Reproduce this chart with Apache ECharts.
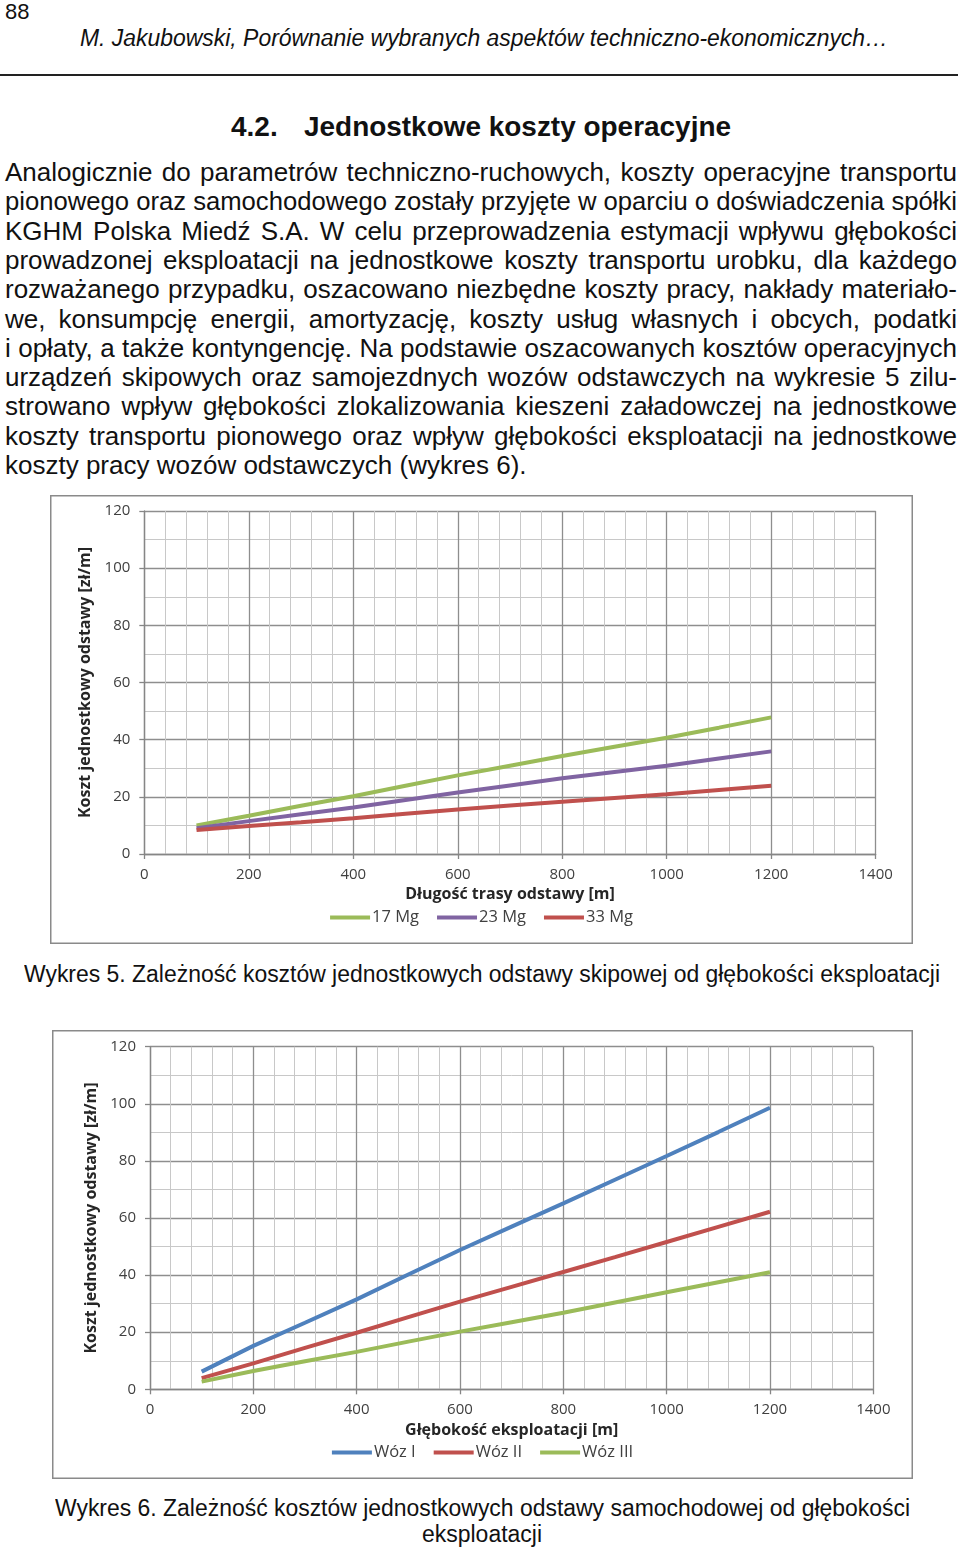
<!DOCTYPE html>
<html>
<head>
<meta charset="utf-8">
<script src="https://cdn.jsdelivr.net/npm/echarts@6/dist/echarts.min.js"></script>
<style>
  html, body { margin:0; padding:0; background:#fff; }
  body { width:960px; height:1553px; position:relative; overflow:hidden; font-family:"Liberation Sans", Arial, sans-serif; color:#111; }
  .t { position:absolute; white-space:nowrap; line-height:1; }
  .fit { transform-origin:0 50%; }
  .line { position:absolute; left:5px; width:952px; font-size:26px; line-height:1; white-space:nowrap; text-align:justify; text-align-last:justify; transform-origin:0 50%; }
  .line.last { text-align:left; text-align-last:left; }
  #rule { position:absolute; left:0; top:74px; width:958px; height:1.5px; background:#222; }
  .chart { position:absolute; }
</style>
</head>
<body>
<div class="t" style="left:5px;top:1px;font-size:22px;">88</div>
<div class="t fit" data-w="808" style="left:80px;top:27px;font-size:23px;font-style:italic;">M. Jakubowski, Porównanie wybranych aspektów techniczno-ekonomicznych…</div>
<div id="rule"></div>
<div class="t" style="left:231px;top:113px;font-size:28px;font-weight:bold;">4.2.</div>
<div class="t fit" data-w="427" style="left:304px;top:113px;font-size:28px;font-weight:bold;">Jednostkowe koszty operacyjne</div>
<div id="para"></div>
<div class="t fit" data-w="916" style="left:24px;top:963px;font-size:23px;">Wykres 5. Zależność kosztów jednostkowych odstawy skipowej od głębokości eksploatacji</div>
<div class="t fit" data-w="855" style="left:55px;top:1497px;font-size:23px;">Wykres 6. Zależność kosztów jednostkowych odstawy samochodowej od głębokości</div>
<div class="t fit" data-w="120" style="left:422px;top:1523px;font-size:23px;">eksploatacji</div>

<div id="c1" class="chart" style="left:50px;top:495px;width:863px;height:449px;"></div>
<div id="c2" class="chart" style="left:52px;top:1030px;width:861px;height:449px;"></div>

<script>
// ---- data ----
const paragraphLines = [
  "Analogicznie do parametrów techniczno-ruchowych, koszty operacyjne transportu",
  "pionowego oraz samochodowego zostały przyjęte w oparciu o doświadczenia spółki",
  "KGHM Polska Miedź S.A. W celu przeprowadzenia estymacji wpływu głębokości",
  "prowadzonej eksploatacji na jednostkowe koszty transportu urobku, dla każdego",
  "rozważanego przypadku, oszacowano niezbędne koszty pracy, nakłady materiało-",
  "we, konsumpcję energii, amortyzację, koszty usług własnych i obcych, podatki",
  "i opłaty, a także kontyngencję. Na podstawie oszacowanych kosztów operacyjnych",
  "urządzeń skipowych oraz samojezdnych wozów odstawczych na wykresie 5 zilu-",
  "strowano wpływ głębokości zlokalizowania kieszeni załadowczej na jednostkowe",
  "koszty transportu pionowego oraz wpływ głębokości eksploatacji na jednostkowe",
  "koszty pracy wozów odstawczych (wykres 6)."
];

const depths = [100, 200, 300, 400, 500, 600, 700, 800, 900, 1000, 1100, 1200];
const xTicks = [0, 200, 400, 600, 800, 1000, 1200, 1400];
const yTicks = [0, 20, 40, 60, 80, 100, 120];

const chart1Names = ["17 Mg", "23 Mg", "33 Mg"];
const mg17 = [10.0, 13.4, 16.9, 20.2, 23.9, 27.5, 30.9, 34.3, 37.5, 40.7, 44.2, 47.8];
const mg23 = [9.0, 11.5, 13.9, 16.3, 18.9, 21.5, 24.0, 26.5, 28.7, 30.9, 33.4, 35.9];
const mg33 = [8.4, 9.8, 11.1, 12.5, 14.1, 15.6, 17.0, 18.3, 19.6, 20.9, 22.4, 23.9];

const chart2Names = ["Wóz I", "Wóz II", "Wóz III"];
const woz1 = [6.2, 15.2, 23.3, 31.5, 40.2, 48.8, 57.0, 65.1, 73.4, 81.7, 90.1, 98.6];
const woz2 = [3.9, 9.1, 14.5, 19.8, 25.3, 30.7, 35.9, 41.1, 46.3, 51.6, 56.9, 62.2];
const woz3 = [2.7, 6.4, 9.8, 13.1, 16.7, 20.2, 23.5, 26.8, 30.4, 34.0, 37.5, 41.0];

// ---- page text ----
const para = document.getElementById('para');
paragraphLines.forEach((txt, i) => {
  const d = document.createElement('div');
  d.className = 'line' + (i === paragraphLines.length - 1 ? ' last' : '');
  d.style.top = (172 - 13 + i * 29.3) + 'px';
  const s = document.createElement('span');
  s.textContent = txt;
  d.appendChild(s);
  para.appendChild(d);
  const nat = s.getBoundingClientRect().width;
  if (nat > 952) {
    d.style.width = nat + 'px';
    d.style.transform = 'scaleX(' + (952 / nat) + ')';
  }
});
document.querySelectorAll('.fit').forEach(el => {
  const target = parseFloat(el.dataset.w);
  const w = el.getBoundingClientRect().width;
  if (w > 0) el.style.transform = 'scaleX(' + (target / w) + ')';
});

// ---- charts ----
function pairs(xs, ys) { return xs.map((x, i) => [x, ys[i]]); }

function makeOption(w, h, grid, xName, names, datas, colors, yNameGap) {
  const axisCommon = {
    type: 'value',
    axisLine: { show: true, onZero: false, lineStyle: { color: '#868686', width: 1.3 } },
    axisTick: { show: true, length: 5, lineStyle: { color: '#868686', width: 1.3 } },
    axisLabel: { color: '#404040', fontSize: 15, fontFamily: 'Open Sans', formatter: v => String(v) },
    splitLine: { show: true, lineStyle: { color: '#8e8e8e', width: 1.3 } },
    minorSplitLine: { show: true, lineStyle: { color: '#c8c8c8', width: 1 } },
    nameLocation: 'middle',
    nameTextStyle: { fontWeight: 'bold', fontSize: 16, color: '#262626', fontFamily: 'Open Sans' }
  };
  return {
    animation: false,
    textStyle: { fontFamily: 'Open Sans' },
    graphic: [{
      type: 'rect', silent: true,
      shape: { x: 0.75, y: 0.75, width: w - 1.5, height: h - 1.5 },
      style: { fill: 'none', stroke: '#8a8a8a', lineWidth: 1.5 }
    }],
    grid: grid,
    legend: {
      data: names, left: 'center', top: h - 40,
      icon: 'rect', itemWidth: 40, itemHeight: 4, itemGap: 18,
      textStyle: { fontSize: 16.5, color: '#404040', fontFamily: 'Open Sans', padding: [0, 0, 0, -3] }
    },
    xAxis: Object.assign({}, axisCommon, {
      min: xTicks[0], max: xTicks[xTicks.length - 1], interval: xTicks[1] - xTicks[0],
      minorTick: { show: false, splitNumber: 5 },
      axisLabel: Object.assign({}, axisCommon.axisLabel, { margin: 13 }),
      name: xName, nameGap: 32
    }),
    yAxis: Object.assign({}, axisCommon, {
      min: yTicks[0], max: yTicks[yTicks.length - 1], interval: yTicks[1] - yTicks[0],
      minorTick: { show: false, splitNumber: 2 },
      axisLabel: Object.assign({}, axisCommon.axisLabel, { margin: 14 }),
      name: 'Koszt jednostkowy odstawy [zł/m]', nameGap: yNameGap
    }),
    series: names.map((n, i) => ({
      name: n, type: 'line', data: pairs(depths, datas[i]),
      showSymbol: false, symbol: 'none',
      lineStyle: { width: 4, color: colors[i] }, itemStyle: { color: colors[i] }
    }))
  };
}

const c1 = echarts.init(document.getElementById('c1'));
c1.setOption(makeOption(863, 449, { left: 94.3, right: 37.3, top: 16, bottom: 90 },
  'Długość trasy odstawy [m]', chart1Names, [mg17, mg23, mg33],
  ['#9BBB59', '#8064A2', '#C0504D'], 47));

const c2 = echarts.init(document.getElementById('c2'));
c2.setOption(makeOption(861, 449, { left: 98, right: 39.7, top: 16.7, bottom: 89.7 },
  'Głębokość eksploatacji [m]', chart2Names, [woz1, woz2, woz3],
  ['#4F81BD', '#C0504D', '#9BBB59'], 47));
</script>
</body>
</html>
